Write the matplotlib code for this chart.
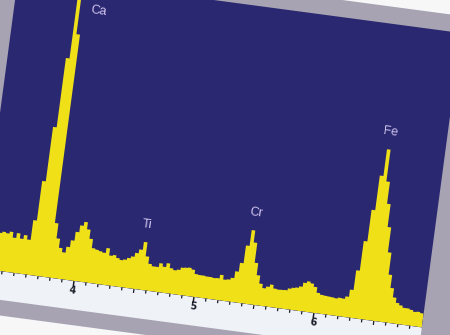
### EDX spectrum of a slag particle, photographed slightly tilted ###
import matplotlib
matplotlib.use('Agg')
import matplotlib.pyplot as plt
import numpy as np
from matplotlib.transforms import Affine2D
from matplotlib.patches import Rectangle
import mpl_toolkits.axisartist.floating_axes as floating_axes
from mpl_toolkits.axisartist.grid_finder import FixedLocator, DictFormatter

##### data #####
# channel edges [keV], 0.03 keV per channel
e_min = 3.21
e_max = 6.90
counts = [
    380, 410, 370, 400, 380, 395, 385, 405, 350, 400, 350, 390, 350,
    550, 950, 1500, 2200, 2900, 2450, 550,
    400, 310, 270, 330, 400, 490, 560, 600, 530, 440,
    350, 340, 330, 320, 370, 300, 310, 285, 270, 280,
    300, 320, 360, 400, 480, 340, 270, 250, 250, 290,
    260, 300, 255, 240, 250, 275, 280, 285, 270, 230,
    225, 225, 220, 220, 215, 218, 255, 213, 220, 240,
    310, 400, 580, 740, 620, 420, 300, 220, 180, 200,
    225, 190, 185, 187, 190, 210, 222, 230, 245, 287,
    306, 290, 260, 205, 190, 186, 183, 180, 175, 185,
    182, 207, 280, 480, 780, 1100, 1450, 1720, 1400, 1180,
    950, 700, 480, 350, 260, 210, 190, 170, 170, 160,
    145, 150, 140,
]
edges = np.linspace(e_min, e_max, len(counts) + 1)

# peak labels
peak_names = ['Ca', 'Ti', 'Cr', 'Fe']
peak_energy = [3.91, 4.54, 5.415, 6.43]
peak_height = [2710, 660, 920, 1896]

# x ticks
major_ticks = [4, 5, 6]
tick_labels = ['4', '5', '6']
half_ticks = [4.5, 5.5, 6.5]
minor_ticks = [3.3, 3.4, 3.5, 3.6, 3.7, 3.8, 3.9,
               4.1, 4.2, 4.3, 4.4, 4.6, 4.7, 4.8, 4.9,
               5.1, 5.2, 5.3, 5.4, 5.6, 5.7, 5.8, 5.9,
               6.1, 6.2, 6.3, 6.4, 6.6, 6.7, 6.8]

##### styles #####
navy = '#2a2870'
yellow = '#f0e018'
gray = '#a7a3b3'
strip = '#eff3f7'
ink = '#1c1c28'
label_color = '#cfc3ee'
top_count = 2970   # full scale of the panel
tilt = -7.6        # the photo is rotated a bit

##### figure #####
fig = plt.figure(figsize=(4.5, 3.35), dpi=100)
fig.patch.set_facecolor('#f7f7f8')

# keV / counts -> pixel, then rotate
tr = Affine2D().translate(-4.0, 0).scale(121, 0.1).rotate_deg(tilt).translate(74, 54)

grid_helper = floating_axes.GridHelperCurveLinear(
    tr, extremes=(e_min, e_max, 0, top_count),
    grid_locator1=FixedLocator(major_ticks),
    tick_formatter1=DictFormatter(dict(zip(major_ticks, tick_labels))),
    grid_locator2=FixedLocator([0, 1000]))
ax = fig.add_axes([0, 0, 1, 1], axes_class=floating_axes.FloatingAxes,
                  grid_helper=grid_helper)
ax.set_xlim(0, 450)
ax.set_ylim(0, 335)
ax.patch.set_facecolor(navy)
ax.patch.set_edgecolor('none')

for side in ['left', 'right', 'top']:
    ax.axis[side].set_visible(False)
ax.axis['bottom'].line.set_visible(False)
ax.axis['bottom'].major_ticks.set_visible(False)
ax.axis['bottom'].major_ticklabels.set(fontsize=7, fontweight='bold', color=ink)
ax.axis['bottom'].major_ticklabels.set_pad(3)

aux = ax.get_aux_axes(tr)
aux.patch = ax.patch   # clip the spectrum to the panel
ax.patch.zorder = 0.9

# mount and the white axis strip
aux.add_patch(Rectangle((2.0, -440), 6.0, 3580, fc=gray, ec='none', zorder=0.3, clip_on=False))
aux.add_patch(Rectangle((e_min, -285), e_max - e_min, 285, fc=strip, ec='none', zorder=0.4, clip_on=False))

aux.stairs(counts, edges, fill=True, color=yellow, baseline=0, zorder=1)

aux.vlines(minor_ticks, -30, 0, colors=ink, lw=0.9, zorder=2, clip_on=False)
aux.vlines(half_ticks, -40, 0, colors=ink, lw=0.9, zorder=2, clip_on=False)
aux.vlines(major_ticks, -55, 0, colors=ink, lw=1.1, zorder=2, clip_on=False)

for name, e, c in zip(peak_names, peak_energy, peak_height):
    aux.text(e, c, name, rotation=tilt, rotation_mode='anchor', ha='center', va='center',
             color=label_color, fontsize=9, fontfamily='Liberation Sans', zorder=3)

fig.savefig('out.png', dpi=100, facecolor=fig.get_facecolor())
